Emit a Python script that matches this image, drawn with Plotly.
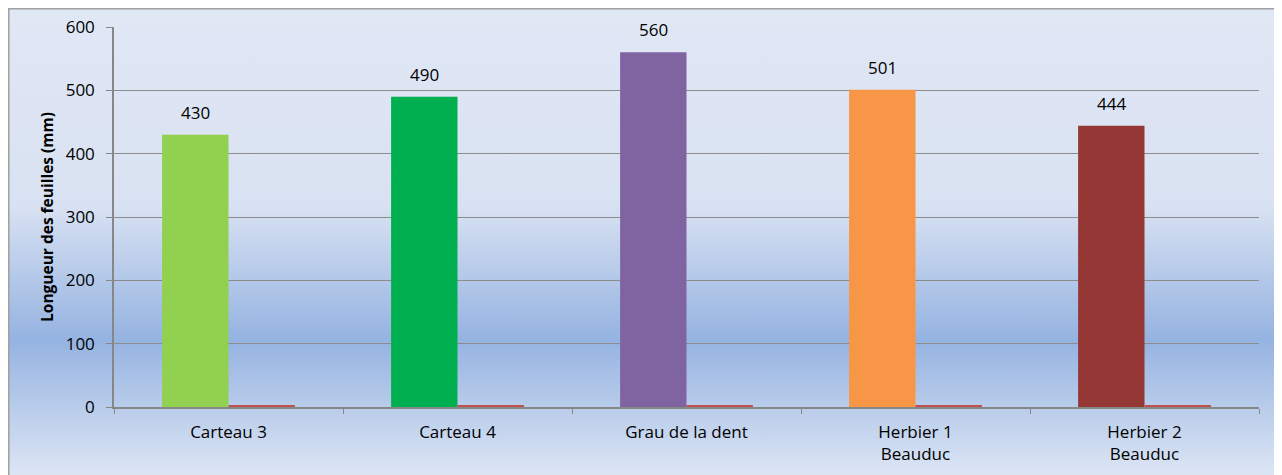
import base64
import plotly.graph_objects as go

# data
sites = ["Carteau 3", "Carteau 4", "Grau de la dent", "Herbier 1<br>Beauduc", "Herbier 2<br>Beauduc"]
longueur = [430, 490, 560, 501, 444]
serie2 = [3, 3, 3, 3, 3]
couleurs = ["#92d050", "#00b050", "#8064a2", "#f79646", "#953735"]
y_ticks = [0, 100, 200, 300, 400, 500, 600]

# page body has an 8px margin, so the figure is 8px smaller than the window
W, H = 1274, 467
L, R, T, B = 106, 23, 19, 68
pw, ph = W - L - R, H - T - B
bargap = 0.42
font = "Open Sans"

# gradient background as an svg image
svg = ('<svg xmlns="http://www.w3.org/2000/svg" width="1274" height="467" viewBox="0 0 1274 467" '
       'preserveAspectRatio="none"><defs><linearGradient id="g" x1="0" y1="0" x2="0" y2="1">'
       '<stop offset="0" stop-color="#e0e7f5"/><stop offset="0.42" stop-color="#d9e2f2"/>'
       '<stop offset="0.71" stop-color="#95b3e1"/><stop offset="1" stop-color="#dce5f4"/>'
       '</linearGradient></defs><rect width="1274" height="467" fill="url(#g)"/></svg>')
src = "data:image/svg+xml;base64," + base64.b64encode(svg.encode()).decode()

def px(x):
    return (x - L) / pw

def py(y):
    return (H - B - y) / ph

fig = go.Figure()
fig.add_trace(go.Bar(x=sites, y=longueur, marker=dict(color=couleurs, line=dict(width=0)),
                     name="longueur", hoverinfo="x+y"))
fig.add_trace(go.Bar(x=sites, y=serie2, marker=dict(color="#c0504d", line=dict(width=0)),
                     name="serie2"))

# data labels above first series bars
bw = pw / len(sites) * (1 - bargap) / 2
for s, v in zip(sites, longueur):
    fig.add_annotation(x=s, y=v, text=str(v), showarrow=False, yanchor="bottom",
                       xshift=-bw / 2, yshift=9, font=dict(family=font, size=17, color="#000"))

fig.update_layout(
    width=W, height=H,
    margin=dict(l=L, r=R, t=T, b=B, autoexpand=False),
    paper_bgcolor="white",
    plot_bgcolor="rgba(0,0,0,0)",
    barmode="group", bargap=bargap, bargroupgap=0,
    showlegend=False,
    font=dict(family=font, size=17, color="#000"),
    images=[dict(source=src, xref="paper", yref="paper", x=px(0), y=py(0),
                 sizex=W / pw, sizey=H / ph, sizing="stretch",
                 xanchor="left", yanchor="top", layer="below")],
    shapes=[dict(type="rect", xref="paper", yref="paper", x0=px(0.8), x1=px(W - 1),
                 y0=py(H + 20), y1=py(0.8), line=dict(color="#a0a0a0", width=1.5))],
)
fig.update_xaxes(showline=True, linecolor="#878787", linewidth=1.5, ticks="outside",
                 tickson="boundaries", ticklen=5, tickcolor="#878787", showgrid=False,
                 ticklabelstandoff=9, tickfont=dict(family=font, size=17))
fig.update_yaxes(range=[0, 600], tickvals=y_ticks, showline=True, linecolor="#878787",
                 linewidth=1.5, ticks="outside", ticklen=6, tickcolor="#878787",
                 showgrid=True, gridcolor="#8c8c8c", gridwidth=1, zeroline=False,
                 ticklabelstandoff=8, tickfont=dict(family=font, size=17),
                 title=dict(text="<b>Longueur des feuilles (mm)</b>", standoff=8,
                            font=dict(family=font, size=15.5)))

fig.write_html("out.html")
